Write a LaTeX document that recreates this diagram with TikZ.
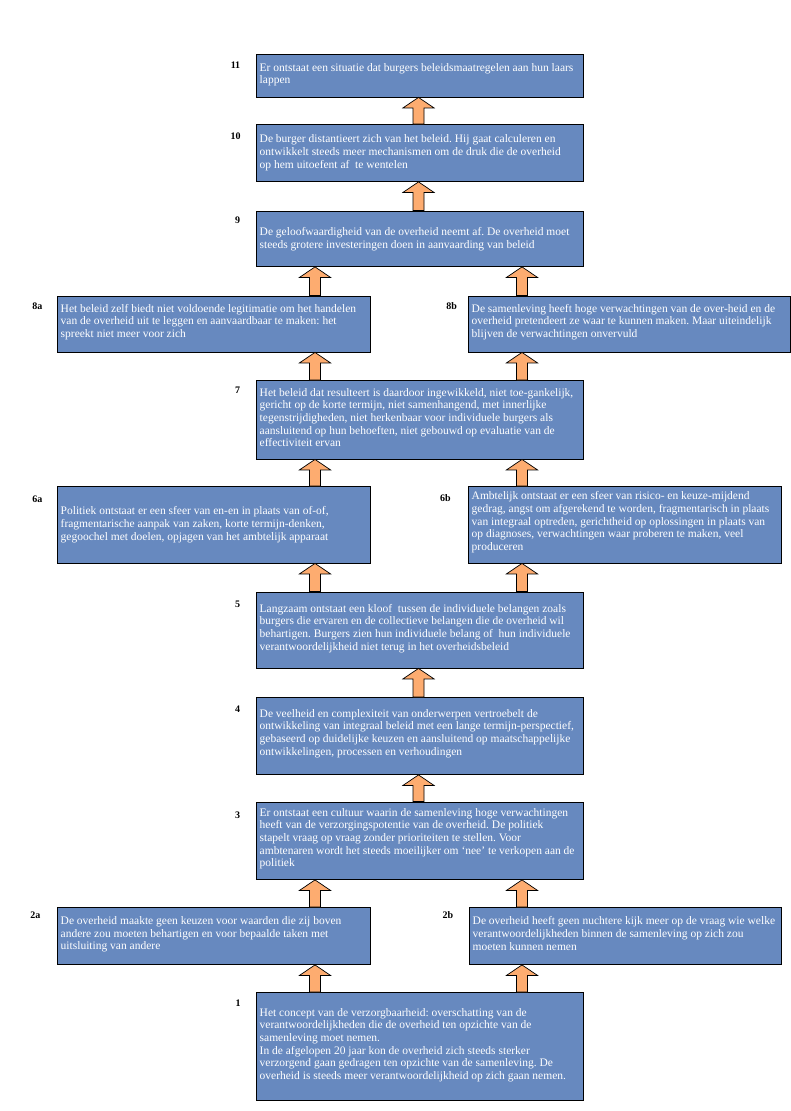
\documentclass[tikz,border=0pt]{standalone}
\usepackage{fontspec}
\setmainfont{Liberation Serif}
\usetikzlibrary{calc}
\definecolor{boxblue}{RGB}{103,137,191}
\definecolor{arroworange}{RGB}{253,172,112}
\newcommand\mkbox[5]{\node[box, minimum width={#4-#2}, minimum height={#5-#3}] (#1) at (#2,#3) {};}
\newcommand\blkarrow[3]{%
  \path[arr] let \p1=(#2.north), \p2=(#3.south) in
  (#1pt-5.5pt,\y1) -- (#1pt-5.5pt,\y2-10.5pt) -- (#1pt-15.5pt,\y2-10.5pt) -- (#1pt,\y2)
  -- (#1pt+15.5pt,\y2-10.5pt) -- (#1pt+5.5pt,\y2-10.5pt) -- (#1pt+5.5pt,\y1) -- cycle;}
\begin{document}
\frenchspacing
\begin{tikzpicture}[x=1pt,y=-1pt,
  box/.style={draw=black, line width=0.9pt, fill=boxblue, inner sep=0pt, anchor=north west},
  txt/.style={anchor=north west, inner sep=0pt, align=left, text=white, font=\frenchspacing\fontsize{11.5}{12.67}\selectfont},
  lbl/.style={font=\bfseries\fontsize{10}{12}\selectfont, inner sep=0pt},
  arr/.style={draw=black, line width=0.7pt, fill=arroworange, line join=miter}]
\useasboundingbox[fill=white] (0,0) rectangle (791,1111);

% boxes
\mkbox{b11}{256}{54}{582.5}{96.5}
\mkbox{b10}{256}{124}{582.5}{181}
\mkbox{b9}{256}{210.5}{582.5}{266}
\mkbox{b8a}{57}{295.5}{369.5}{351.5}
\mkbox{b8b}{468}{295.5}{789.5}{351.5}
\mkbox{b7}{256}{380}{582.5}{458.5}
\mkbox{b6a}{57}{486}{369.5}{562.5}
\mkbox{b6b}{468}{486}{780.5}{562.5}
\mkbox{b5}{256}{591.5}{582.5}{667.5}
\mkbox{b4}{256}{697}{582.5}{774}
\mkbox{b3}{256}{801.5}{582.5}{879}
\mkbox{b2a}{57}{907}{370}{964}
\mkbox{b2b}{469}{907}{781}{964}
\mkbox{b1}{256}{992}{582.5}{1100}

% arrows
\blkarrow{418.5}{b10}{b11}
\blkarrow{418.5}{b9}{b10}
\blkarrow{315}{b8a}{b9}
\blkarrow{522}{b8b}{b9}
\blkarrow{315}{b7}{b8a}
\blkarrow{522}{b7}{b8b}
\blkarrow{315}{b6a}{b7}
\blkarrow{522}{b6b}{b7}
\blkarrow{315}{b5}{b6a}
\blkarrow{522}{b5}{b6b}
\blkarrow{418.5}{b4}{b5}
\blkarrow{418.5}{b3}{b4}
\blkarrow{315}{b2a}{b3}
\blkarrow{522}{b2b}{b3}
\blkarrow{315}{b1}{b2a}
\blkarrow{522}{b1}{b2b}

% labels
\node[lbl] (l11) at (235.5,65) {11};
\node[lbl] (l10) at (235.5,136) {10};
\node[lbl] (l9) at (237.5,220) {9};
\node[lbl] (l8a) at (37.3,306) {8a};
\node[lbl] (l8b) at (451.7,306) {8b};
\node[lbl] (l7) at (237.5,390) {7};
\node[lbl] (l6a) at (37.3,499.3) {6a};
\node[lbl] (l6b) at (445.5,498) {6b};
\node[lbl] (l5) at (237.5,604.3) {5};
\node[lbl] (l4) at (237.5,709.3) {4};
\node[lbl] (l3) at (237.5,815) {3};
\node[lbl] (l2a) at (35.5,915) {2a};
\node[lbl] (l2b) at (448,915) {2b};
\node[lbl] (l1) at (238,1002.7) {1};

% texts
\node[txt] (t11) at (259.5,63) {Er ontstaat een situatie dat burgers beleidsmaatregelen aan hun laars\\lappen};
\node[txt] (t10) at (259.5,134.7) {De burger distantieert zich van het beleid. Hij gaat calculeren en\\ontwikkelt steeds meer mechanismen om de druk die de overheid\\op hem uitoefent af\ \ te wentelen};
\node[txt] (t9) at (259.5,227.4) {De geloofwaardigheid van de overheid neemt af. De overheid moet\\steeds grotere investeringen doen in aanvaarding van beleid};
\node[txt] (t8a) at (60.5,304) {Het beleid zelf biedt niet voldoende legitimatie om het handelen\\van de overheid uit te leggen en aanvaardbaar te maken: het\\spreekt niet meer voor zich};
\node[txt] (t8b) at (471.5,304) {De samenleving heeft hoge verwachtingen van de over-heid en de\\overheid pretendeert ze waar te kunnen maken. Maar uiteindelijk\\blijven de verwachtingen onvervuld};
\node[txt] (t7) at (259.5,388) {Het beleid dat resulteert is daardoor ingewikkeld, niet toe-gankelijk,\\gericht op de korte termijn, niet samenhangend, met innerlijke\\tegenstrijdigheden, niet herkenbaar voor individuele burgers als\\aansluitend op hun behoeften, niet gebouwd op evaluatie van de\\effectiviteit ervan};
\node[txt] (t6a) at (60.5,506.4) {Politiek ontstaat er een sfeer van en-en in plaats van of-of,\\fragmentarische aanpak van zaken, korte termijn-denken,\\gegoochel met doelen, opjagen van het ambtelijk apparaat};
\node[txt] (t6b) at (471.5,491.4) {Ambtelijk ontstaat er een sfeer van risico- en keuze-mijdend\\gedrag, angst om afgerekend te worden, fragmentarisch in plaats\\van integraal optreden, gerichtheid op oplossingen in plaats van\\op diagnoses, verwachtingen waar proberen te maken, veel\\produceren};
\node[txt] (t5) at (259.5,604) {Langzaam ontstaat een kloof\ \ tussen de individuele belangen zoals\\burgers die ervaren en de collectieve belangen die de overheid wil\\behartigen. Burgers zien hun individuele belang of\ \ hun individuele\\verantwoordelijkheid niet terug in het overheidsbeleid};
\node[txt] (t4) at (259.5,709) {De veelheid en complexiteit van onderwerpen vertroebelt de\\ontwikkeling van integraal beleid met een lange termijn-perspectief,\\gebaseerd op duidelijke keuzen en aansluitend op maatschappelijke\\ontwikkelingen, processen en verhoudingen};
\node[txt] (t3) at (259.5,808) {Er ontstaat een cultuur waarin de samenleving hoge verwachtingen\\heeft van de verzorgingspotentie van de overheid. De politiek\\stapelt vraag op vraag zonder prioriteiten te stellen. Voor\\ambtenaren wordt het steeds moeilijker om ‘nee’ te verkopen aan de\\politiek};
\node[txt] (t2a) at (60.5,916.4) {De overheid maakte geen keuzen voor waarden die zij boven\\andere zou moeten behartigen en voor bepaalde taken met\\uitsluiting van andere};
\node[txt] (t2b) at (472.5,916.4) {De overheid heeft geen nuchtere kijk meer op de vraag wie welke\\verantwoordelijkheden binnen de samenleving op zich zou\\moeten kunnen nemen};
\node[txt] (t1) at (259.5,1008) {Het concept van de verzorgbaarheid: overschatting van de\\verantwoordelijkheden die de overheid ten opzichte van de\\samenleving moet nemen.\\In de afgelopen 20 jaar kon de overheid zich steeds sterker\\verzorgend gaan gedragen ten opzichte van de samenleving. De\\overheid is steeds meer verantwoordelijkheid op zich gaan nemen.};
\end{tikzpicture}
\end{document}
